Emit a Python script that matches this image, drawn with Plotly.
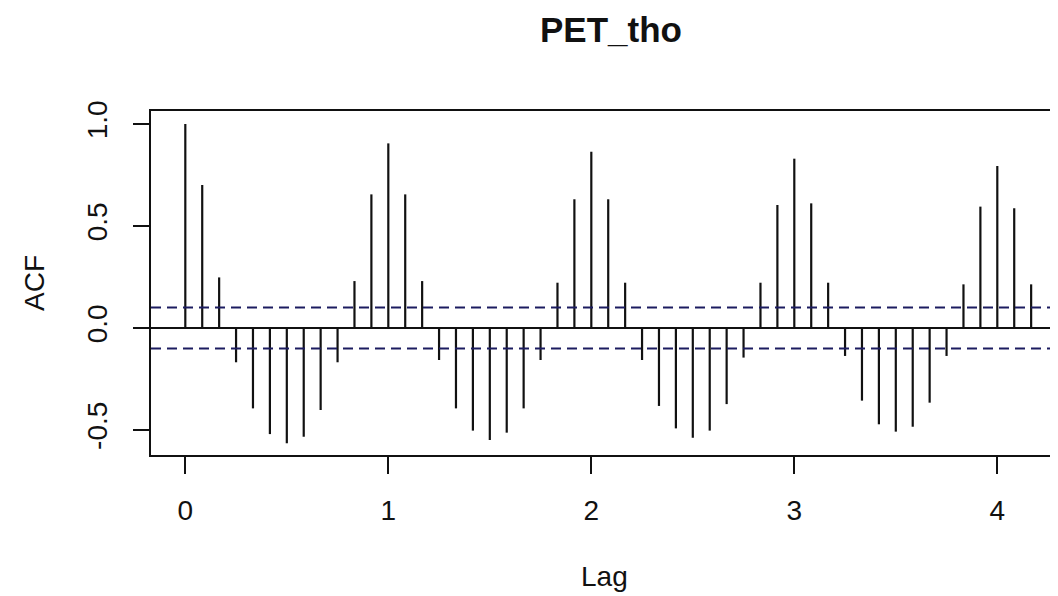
import plotly.graph_objects as go

# ---- data ----
lag_steps = list(range(0, 51))          # lag index k, lag = k/12
acf_values = [
    1.000, 0.701, 0.248, -0.168, -0.394, -0.520, -0.565, -0.533, -0.402, -0.168,
    0.230, 0.655, 0.905, 0.655, 0.230, -0.157, -0.394, -0.503, -0.549, -0.513,
    -0.394, -0.157, 0.222, 0.631, 0.864, 0.631, 0.222, -0.157, -0.382, -0.492,
    -0.538, -0.503, -0.373, -0.145, 0.222, 0.603, 0.830, 0.611, 0.222, -0.137,
    -0.356, -0.472, -0.508, -0.484, -0.366, -0.137, 0.214, 0.595, 0.794, 0.587,
    0.214,
]
ci_bound = 0.101
x_ticks = [0, 1, 2, 3, 4]
y_ticks = [-0.5, 0.0, 0.5, 1.0]
y_tick_labels = ["-0.5", "0.0", "0.5", "1.0"]
title_text = "PET_tho"
x_label = "Lag"
y_label = "ACF"

lags = [k / 12 for k in lag_steps]

# build vertical spikes
xs, ys = [], []
for lg, v in zip(lags, acf_values):
    xs += [lg, lg, None]
    ys += [0, v, None]

FONT = "Liberation Sans, Arial, sans-serif"
INK = "#111111"

fig = go.Figure()
fig.add_trace(go.Scatter(x=xs, y=ys, mode="lines",
                         line=dict(color=INK, width=2.2),
                         hoverinfo="skip", showlegend=False))

x_lo, x_hi = -0.169, 4.299
# zero line and confidence bounds
fig.add_trace(go.Scatter(x=[x_lo, x_hi], y=[0, 0], mode="lines",
                         line=dict(color=INK, width=2), showlegend=False))
for b in (ci_bound, -ci_bound):
    fig.add_trace(go.Scatter(x=[x_lo, x_hi], y=[b, b], mode="lines",
                             line=dict(color="#1c1c60", width=2, dash="10px,6px"),
                             showlegend=False))

W, H = 1050, 588
fig.update_layout(
    width=W, height=H,
    margin=dict(l=143, r=0, t=103, b=141),
    paper_bgcolor="white", plot_bgcolor="white",
    font=dict(family=FONT, color=INK, size=28),
    title=dict(text="<b>" + title_text + "</b>", x=603 / W, xanchor="center",
               y=1 - 22 / H, yanchor="middle",
               font=dict(family=FONT, size=35, color=INK)),
    xaxis=dict(range=[x_lo, x_hi], tickvals=x_ticks, ticktext=[str(t) for t in x_ticks],
               showgrid=False, zeroline=False,
               showline=True, linecolor=INK, linewidth=2, mirror=True,
               ticks="outside", ticklen=17, tickwidth=2, tickcolor=INK,
               ticklabelstandoff=12),
    yaxis=dict(range=[-0.6225, 1.0637], tickvals=y_ticks, ticktext=y_tick_labels,
               tickangle=-90,
               showgrid=False, zeroline=False,
               showline=True, linecolor=INK, linewidth=2, mirror=False,
               ticks="outside", ticklen=16, tickwidth=2, tickcolor=INK,
               ticklabelstandoff=15),
    annotations=[
        dict(text=x_label, xref="paper", yref="paper", x=0.5, y=0,
             xanchor="center", yanchor="middle", yshift=-121, showarrow=False,
             font=dict(family=FONT, size=28, color=INK)),
        dict(text=y_label, xref="paper", yref="paper", x=0, y=0.5,
             xanchor="center", yanchor="middle", xshift=-117, textangle=-90,
             showarrow=False, font=dict(family=FONT, size=28, color=INK)),
    ],
)

fig.write_html("out.html")
